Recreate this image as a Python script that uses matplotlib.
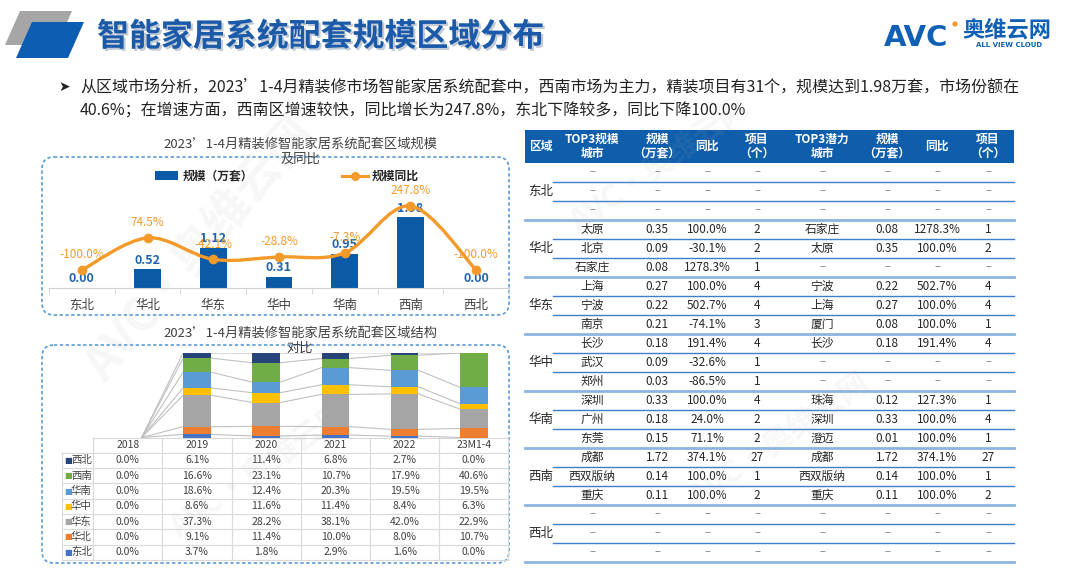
import numpy as np
import matplotlib
matplotlib.use('Agg')
import matplotlib.pyplot as plt
from matplotlib.patches import Polygon, FancyBboxPatch, Rectangle, Circle, PathPatch
from matplotlib.path import Path
import matplotlib.patheffects as pe

plt.rcParams['font.family'] = ['Noto Sans CJK SC', 'DejaVu Sans']

# ---------------- data ----------------
page_title = "智能家居系统配套规模区域分布"
bullet_line1 = "从区域市场分析，2023’1-4月精装修市场智能家居系统配套中，西南市场为主力，精装项目有31个，规模达到1.98万套，市场份额在"
bullet_line2 = "40.6%；在增速方面，西南区增速较快，同比增长为247.8%，东北下降较多，同比下降100.0%"

chart1_title = "2023’1-4月精装修智能家居系统配套区域规模\n及同比"
chart2_title = "2023’1-4月精装修智能家居系统配套区域结构\n对比"

regions = ["东北", "华北", "华东", "华中", "华南", "西南", "西北"]
scale_wan = [0.00, 0.52, 1.12, 0.31, 0.95, 1.98, 0.00]
scale_yoy = [-100.0, 74.5, -42.1, -28.8, -7.3, 247.8, -100.0]

years = ["2018", "2019", "2020", "2021", "2022", "23M1-4"]
share_dongbei = [0.0, 3.7, 1.8, 2.9, 1.6, 0.0]
share_huabei = [0.0, 9.1, 11.4, 10.0, 8.0, 10.7]
share_huadong = [0.0, 37.3, 28.2, 38.1, 42.0, 22.9]
share_huazhong = [0.0, 8.6, 11.6, 11.4, 8.4, 6.3]
share_huanan = [0.0, 18.6, 12.4, 20.3, 19.5, 19.5]
share_xinan = [0.0, 16.6, 23.1, 10.7, 17.9, 40.6]
share_xibei = [0.0, 6.1, 11.4, 6.8, 2.7, 0.0]

table_headers = ["区域", "TOP3规模\n城市", "规模\n（万套）", "同比", "项目\n（个）",
                 "TOP3潜力\n城市", "规模\n（万套）", "同比", "项目\n（个）"]
N3 = [None] * 3
top_city = N3 + ["太原", "北京", "石家庄", "上海", "宁波", "南京", "长沙", "武汉", "郑州",
                 "深圳", "广州", "东莞", "成都", "西双版纳", "重庆"] + N3
top_scale = N3 + [0.35, 0.09, 0.08, 0.27, 0.22, 0.21, 0.18, 0.09, 0.03,
                  0.33, 0.18, 0.15, 1.72, 0.14, 0.11] + N3
top_yoy = N3 + [100.0, -30.1, 1278.3, 100.0, 502.7, -74.1, 191.4, -32.6, -86.5,
                100.0, 24.0, 71.1, 374.1, 100.0, 100.0] + N3
top_proj = N3 + [2, 2, 1, 4, 4, 3, 4, 1, 1, 4, 2, 2, 27, 1, 2] + N3
pot_city = N3 + ["石家庄", "太原", None, "宁波", "上海", "厦门", "长沙", None, None,
                 "珠海", "深圳", "澄迈", "成都", "西双版纳", "重庆"] + N3
pot_scale = N3 + [0.08, 0.35, None, 0.22, 0.27, 0.08, 0.18, None, None,
                  0.12, 0.33, 0.01, 1.72, 0.14, 0.11] + N3
pot_yoy = N3 + [1278.3, 100.0, None, 502.7, 100.0, 100.0, 191.4, None, None,
                127.3, 100.0, 100.0, 374.1, 100.0, 100.0] + N3
pot_proj = N3 + [1, 2, None, 4, 4, 1, 4, None, None, 1, 4, 1, 27, 1, 2] + N3

# ---------------- style ----------------
W, H = 1080, 571
BLUE = '#0b5aa6'
ORANGE = '#f39a2b'
TXT = '#404040'
stack_colors = {"东北": '#4472c4', "华北": '#ed7d31', "华东": '#a5a5a5', "华中": '#ffc000',
                "华南": '#5b9bd5', "西南": '#70ad47', "西北": '#264478'}

fig = plt.figure(figsize=(W / 100, H / 100), dpi=100)
fig.patch.set_facecolor('white')
ax0 = fig.add_axes([0, 0, 1, 1])
ax0.set_xlim(0, W)
ax0.set_ylim(H, 0)
ax0.axis('off')


def fr(x0, y0, x1, y1):
    return [x0 / W, 1 - y1 / H, (x1 - x0) / W, (y1 - y0) / H]


# ---------------- header ----------------
ax0.add_patch(Polygon([(20, 11), (72, 11), (57, 45), (5, 45)], closed=True,
                      facecolor='#a6a6a6', edgecolor='none'))
ax0.add_patch(Polygon([(32, 22), (84, 22), (68, 58), (16, 58)], closed=True,
                      facecolor='#0d5db3', edgecolor='none'))
ax0.text(97, 37, page_title, fontsize=23, fontweight='bold', color='#1a5aa8',
         va='center', ha='left',
         path_effects=[pe.withSimplePatchShadow(offset=(1.5, -1.5), shadow_rgbFace='#9aa8bb', alpha=0.6)])

# logo
ax0.text(884, 38, "AVC", fontsize=21, fontweight='bold', color='#1060b5',
         va='center', ha='left', family=['DejaVu Sans'])
ax0.add_patch(Circle((955, 24), 2.6, facecolor='#f39a2b', edgecolor='none'))
ax0.text(962, 30, "奥维云网", fontsize=16, fontweight='bold', color='#1060b5', va='center', ha='left')
ax0.text(1009, 45, "ALL VIEW CLOUD", fontsize=5, fontweight='bold', color='#1060b5',
         va='center', ha='center', family=['DejaVu Sans'])

# bullet text
ax0.text(58, 87, "➤", fontsize=10, color='#222222', va='center', ha='left', family=['DejaVu Sans'])
ax0.text(80, 87, bullet_line1, fontsize=11.5, color='#222222', va='center', ha='left')
ax0.text(80, 111, bullet_line2, fontsize=11.5, color='#222222', va='center', ha='left')

# ---------------- watermarks ----------------
for (wx, wy, ws, rot) in [(200, 250, 34, 50), (660, 165, 22, 35), (780, 440, 22, 35), (260, 470, 22, 35)]:
    ax0.text(wx, wy, "AVC·奥维云网", fontsize=ws, fontweight='bold', color='#b0b0b0', alpha=0.10,
             rotation=rot, ha='center', va='center', zorder=50)

# ---------------- chart 1 ----------------
ax0.add_patch(FancyBboxPatch((42, 157), 467, 158, boxstyle="round,pad=0,rounding_size=12",
                             facecolor='none', edgecolor='#5b9bd5', lw=1.2, linestyle=(0, (2, 1.5))))
ax0.text(300, 152, chart1_title, fontsize=9.5, color=TXT, ha='center', va='center', linespacing=1.25)

# legend
ax0.add_patch(Rectangle((155, 171), 23, 9, facecolor=BLUE, edgecolor='none'))
ax0.text(183, 176, "规模（万套）", fontsize=8.5, fontweight='bold', color='#262626', va='center', ha='left')
ax0.plot([342, 368], [176, 176], color=ORANGE, lw=2.2)
ax0.plot([355], [176], 'o', color=ORANGE, ms=5.5)
ax0.text(372, 176, "规模同比", fontsize=8.5, fontweight='bold', color='#262626', va='center', ha='left')

ax1 = fig.add_axes(fr(49, 178, 509, 288))
ax1.patch.set_alpha(0)
xc = np.arange(len(regions))
ax1.bar(xc, scale_wan, width=0.41, color=BLUE, zorder=2)
ax1.set_xlim(-0.5, len(regions) - 0.5)
ax1.set_ylim(0, 3.07)
for s in ['top', 'right', 'left']:
    ax1.spines[s].set_visible(False)
ax1.spines['bottom'].set_color('#d0d0d0')
ax1.set_yticks([])
ax1.set_xticks(xc)
ax1.set_xticklabels(regions, fontsize=9, color=TXT)
ax1.tick_params(axis='x', which='major', length=0, pad=8)
ax1.set_xticks(np.arange(-0.5, len(regions), 1), minor=True)
ax1.tick_params(axis='x', which='minor', length=4, color='#d0d0d0')
for xi, v in zip(xc, scale_wan):
    ax1.annotate(f"{v:.2f}", (xi, v), xytext=(0, 6.5), textcoords='offset points',
                 ha='center', va='center', fontsize=9, fontweight='bold', color='#1f63b0', zorder=5)

ax2 = ax1.twinx()
ax2.set_ylim(-197.8, 400)
ax2.axis('off')


def smooth_path(xs, ys):
    pts = np.column_stack([xs, ys]).astype(float)
    n = len(pts)
    verts = [pts[0]]
    codes = [Path.MOVETO]
    for i in range(n - 1):
        p0 = pts[i - 1] if i > 0 else pts[i]
        p1, p2 = pts[i], pts[i + 1]
        p3 = pts[i + 2] if i + 2 < n else pts[i + 1]
        verts += [p1 + (p2 - p0) / 6, p2 - (p3 - p1) / 6, p2]
        codes += [Path.CURVE4] * 3
    return Path(verts, codes)


ax2.add_patch(PathPatch(smooth_path(xc, scale_yoy), facecolor='none', edgecolor=ORANGE, lw=2.4, zorder=3))
ax2.plot(xc, scale_yoy, 'o', color=ORANGE, ms=6, zorder=4)
for xi, v in zip(xc, scale_yoy):
    ax2.annotate(f"{v:.1f}%", (xi, v), xytext=(0, 11), textcoords='offset points',
                 ha='center', va='center', fontsize=8.5, color=ORANGE, zorder=5)

# ---------------- chart 2 ----------------
ax0.add_patch(FancyBboxPatch((42, 345), 467, 218, boxstyle="round,pad=0,rounding_size=12",
                             facecolor='none', edgecolor='#5b9bd5', lw=1.2, linestyle=(0, (2, 1.5))))
ax0.text(300, 341, chart2_title, fontsize=9.5, color=TXT, ha='center', va='center', linespacing=1.25)

share_by_region = {"东北": share_dongbei, "华北": share_huabei, "华东": share_huadong,
                   "华中": share_huazhong, "华南": share_huanan, "西南": share_xinan, "西北": share_xibei}
stack_order = ["东北", "华北", "华东", "华中", "华南", "西南", "西北"]

tx0, tx1 = 93.2, 508.4
ax3 = fig.add_axes(fr(tx0, 353, tx1, 437.5))
ax3.patch.set_alpha(0)
xy = np.arange(len(years))
bw = 0.4
bottom = np.zeros(len(years))
cums = []
for r in stack_order:
    vals = np.array(share_by_region[r])
    ax3.bar(xy, vals, bottom=bottom, width=bw, color=stack_colors[r], zorder=3)
    bottom = bottom + vals
    cums.append(bottom.copy())
for cum in cums:
    for i in range(len(years) - 1):
        ax3.plot([xy[i] + bw / 2, xy[i + 1] - bw / 2], [cum[i], cum[i + 1]],
                 color='#c0c0c0', lw=0.8, zorder=2)
ax3.set_xlim(-0.5, len(years) - 0.5)
ax3.set_ylim(0, 100)
ax3.axis('off')

# table under chart 2
colw = (tx1 - tx0) / len(years)
row_h = 15.3
t_top = 437.5
grid_c = '#d9d9d9'
n_rows = len(stack_order) + 1
ax0.plot([tx0, tx1], [t_top, t_top], color=grid_c, lw=0.8)
for k in range(1, n_rows + 1):
    yy = t_top + k * row_h
    ax0.plot([62, tx1], [yy, yy], color=grid_c, lw=0.8)
for k in range(len(years) + 1):
    xx = tx0 + k * colw
    ax0.plot([xx, xx], [t_top, t_top + n_rows * row_h], color=grid_c, lw=0.8)
ax0.plot([62, 62], [t_top + row_h, t_top + n_rows * row_h], color=grid_c, lw=0.8)
for j, yr in enumerate(years):
    ax0.text(tx0 + (j + 0.5) * colw, t_top + 0.5 * row_h, yr, fontsize=7.5, color=TXT,
             ha='center', va='center')
for i, r in enumerate(stack_order[::-1]):
    yy = t_top + (i + 1.5) * row_h
    ax0.text(64, yy, "■", fontsize=6, color=stack_colors[r], ha='left', va='center', family=['DejaVu Sans'])
    ax0.text(71, yy, r, fontsize=7.5, color=TXT, ha='left', va='center')
    for j, v in enumerate(share_by_region[r]):
        ax0.text(tx0 + (j + 0.5) * colw, yy, f"{v:.1f}%", fontsize=7.5, color=TXT,
                 ha='center', va='center')

# ---------------- right table ----------------
rx0, rx1 = 525, 1014
hy0, hy1 = 130, 163
ax0.add_patch(Rectangle((rx0, hy0), rx1 - rx0, hy1 - hy0, facecolor='#0f5eab', edgecolor='none'))
col_x = [541, 592, 657, 707, 757, 822, 887, 937, 988]
for cx, h in zip(col_x, table_headers):
    ax0.text(cx, (hy0 + hy1) / 2, h, fontsize=8.5, fontweight='bold', color='white',
             ha='center', va='center', linespacing=1.05)

rh = 19.0
n_body = len(top_city)
columns = [top_city, top_scale, top_yoy, top_proj, pot_city, pot_scale, pot_yoy, pot_proj]
fmts = [str, lambda v: f"{v:.2f}", lambda v: f"{v:.1f}%", str,
        str, lambda v: f"{v:.2f}", lambda v: f"{v:.1f}%", str]
for i in range(n_body):
    yc = hy1 + (i + 0.5) * rh
    for cx, col, f in zip(col_x[1:], columns, fmts):
        v = col[i]
        if v is None:
            ax0.text(cx, yc, "–", fontsize=8, color='#7f7f7f', ha='center', va='center')
        else:
            ax0.text(cx, yc, f(v), fontsize=8.5, color='#262626', ha='center', va='center')
    yb = hy1 + (i + 1) * rh
    if (i + 1) % 3 == 0:
        ax0.plot([rx0, rx1], [yb, yb], color='#8db4e2', lw=2.0)
    else:
        ax0.plot([553, rx1], [yb, yb], color='#3f7fc8', lw=1.0)
for g, r in enumerate(regions):
    ax0.text(528, hy1 + (g * 3 + 1.5) * rh, r, fontsize=9, color='#262626', ha='left', va='center')

fig.savefig('out.png', dpi=100, facecolor='white')
